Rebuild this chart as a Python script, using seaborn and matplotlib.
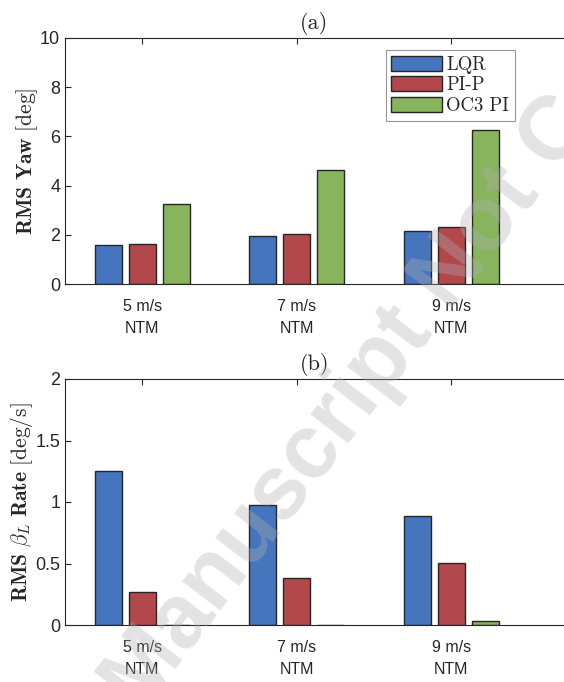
import matplotlib
matplotlib.use("Agg")
import matplotlib.pyplot as plt
import seaborn as sns
import pandas as pd

categories = ["5 m/s\nNTM", "7 m/s\nNTM", "9 m/s\nNTM"]
controllers = ["LQR", "PI-P", "OC3 PI"]
yaw_lqr = [1.60, 1.94, 2.14]
yaw_pip = [1.64, 2.02, 2.30]
yaw_oc3 = [3.24, 4.65, 6.27]
rate_lqr = [1.248, 0.977, 0.885]
rate_pip = [0.268, 0.382, 0.503]
rate_oc3 = [0.0, 0.003, 0.032]

colors = ["#4575BD", "#B2474C", "#87B45D"]

def make_df(a, b, c):
    rows = []
    for name, vals in zip(controllers, [a, b, c]):
        for cat, v in zip(categories, vals):
            rows.append({"cat": cat, "ctrl": name, "val": v})
    return pd.DataFrame(rows)

df_yaw = make_df(yaw_lqr, yaw_pip, yaw_oc3)
df_rate = make_df(rate_lqr, rate_pip, rate_oc3)

sns.set_style("white")
plt.rcParams["mathtext.fontset"] = "cm"
plt.rcParams["font.family"] = ["Liberation Sans", "DejaVu Sans"]

fig = plt.figure(figsize=(5.64, 6.82), dpi=100)
ax1 = fig.add_axes([65/564, 1-284/682, 1-65/564, 246/682])
ax2 = fig.add_axes([65/564, 1-625/682, 1-65/564, 246/682])

for ax, df, ylim, yticks, yticklabels, ylabel, title in [
    (ax1, df_yaw, (0, 10), [0, 2, 4, 6, 8, 10], ["0", "2", "4", "6", "8", "10"],
     r"$\mathbf{RMS\ Yaw}\ [\mathrm{deg}]$", "(a)"),
    (ax2, df_rate, (0, 2), [0, 0.5, 1, 1.5, 2], ["0", "0.5", "1", "1.5", "2"],
     r"$\mathbf{RMS}\ \beta_L\ \mathbf{Rate}\ [\mathrm{deg/s}]$", "(b)"),
]:
    sns.barplot(data=df, x="cat", y="val", hue="ctrl", hue_order=controllers,
                palette=colors, width=0.66, gap=0.2, ax=ax,
                edgecolor="#262626", linewidth=1.0, saturation=1, legend=(ax is ax1))
    ax.set_xlim(-0.5, 2.73)
    ax.set_ylim(*ylim)
    ax.set_yticks(yticks)
    ax.set_yticklabels(yticklabels)
    ax.set_xlabel("")
    ax.set_ylabel(ylabel, fontsize=15.5, color="#262626", labelpad=0)
    ax.set_title(title, fontsize=16, color="#262626", pad=6.5, family="cmr10")
    for s in ["left", "top", "bottom"]:
        ax.spines[s].set_visible(True)
        ax.spines[s].set_color("#262626")
        ax.spines[s].set_linewidth(0.8)
    ax.spines["right"].set_visible(False)
    ax.tick_params(axis="both", direction="in", length=4, width=0.8,
                   colors="#262626", labelsize=11.5, top=True, bottom=True, left=True)
    ax.tick_params(axis="x", pad=11)
    ax.tick_params(axis="y", labelsize=13)
    for lbl in ax.get_xticklabels():
        lbl.set_linespacing(1.55)

leg = ax1.legend(loc="upper right", bbox_to_anchor=((515-65)/499, (284-50)/246),
                 prop={"family": "cmr10", "size": 13.5}, frameon=True, fancybox=False,
                 edgecolor="#7f7f7f", handlelength=2.7, handleheight=0.85,
                 labelspacing=0.15, handletextpad=0.25, borderpad=0.3, borderaxespad=0)
leg.get_frame().set_linewidth(0.8)

fig.text(0.25, -0.047, "Manuscript Not Copyedited", fontsize=65, fontweight="bold",
         color=(0.69, 0.69, 0.69), alpha=0.35, rotation=52.5, rotation_mode="anchor",
         ha="left", va="baseline", family="Liberation Sans", zorder=10)

fig.savefig("out.png", dpi=100)
